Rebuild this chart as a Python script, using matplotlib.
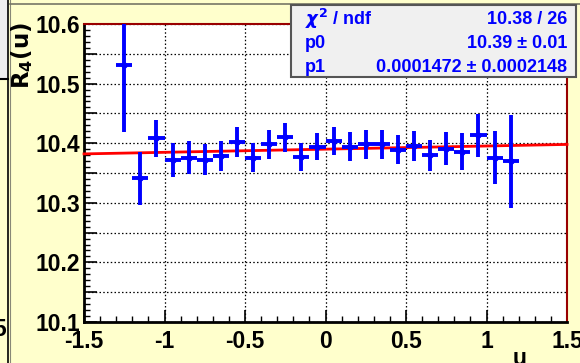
import numpy as np
import matplotlib
matplotlib.use("Agg")
import matplotlib.pyplot as plt
from matplotlib.ticker import MultipleLocator
from matplotlib.patches import Rectangle
from matplotlib.lines import Line2D

plt.rcParams['font.family'] = ['Liberation Sans', 'DejaVu Sans']
plt.rcParams['font.weight'] = 'bold'

u = [-1.25, -1.15, -1.05, -0.95, -0.85, -0.75, -0.65, -0.55, -0.45, -0.35,
     -0.25, -0.15, -0.05, 0.05, 0.15, 0.25, 0.35, 0.45, 0.55, 0.65,
     0.75, 0.85, 0.95, 1.05, 1.15]
r4 = [10.532, 10.341, 10.408, 10.372, 10.376, 10.372, 10.378, 10.402, 10.376, 10.398,
      10.410, 10.377, 10.394, 10.404, 10.394, 10.398, 10.398, 10.389, 10.395, 10.380,
      10.391, 10.386, 10.413, 10.376, 10.370]
r4_err = [0.113, 0.044, 0.031, 0.028, 0.027, 0.026, 0.025, 0.025, 0.025, 0.024,
          0.024, 0.024, 0.023, 0.023, 0.024, 0.024, 0.024, 0.024, 0.025, 0.026,
          0.028, 0.031, 0.036, 0.044, 0.078]
u_err = 0.05

# fitted line as drawn (value at u=0 and slope)
fit_p0 = 10.390
fit_slope = 0.0053

stat_names = [r'$\chi^2$ / ndf', 'p0', 'p1']
stat_values = ['10.38 / 26', u'10.39 \u00b1 0.01', u'0.0001472 \u00b1 0.0002148']

y_ticks = [10.1, 10.15, 10.2, 10.25, 10.3, 10.35, 10.4, 10.45, 10.5, 10.55, 10.6]
y_tick_labels = ['10.1', '', '10.2', '', '10.3', '', '10.4', '', '10.5', '', '10.6']
x_ticks = [-1.5, -1, -0.5, 0, 0.5, 1, 1.5]
x_tick_labels = ['-1.5', '-1', '-0.5', '0', '0.5', '1', '1.5']

W, H = 580, 363
bg = '#ffffcc'
fig = plt.figure(figsize=(W / 100, H / 100), dpi=100, facecolor=bg)

def px(x, y):
    return x / W, 1 - y / H

# piece of the neighbouring pad on the left
fig.patches.append(Rectangle(px(0, 79), 7.5 / W, 79 / H, transform=fig.transFigure,
                             facecolor='#eeeeee', edgecolor='none'))
fig.lines.append(Line2D([0, 8 / W], [1 - 79 / H] * 2, transform=fig.transFigure, color='black', lw=1.5))
fig.lines.append(Line2D([7.7 / W] * 2, [0, 1], transform=fig.transFigure, color='black', lw=1.2))
fig.lines.append(Line2D([10.3 / W] * 2, [0, 1], transform=fig.transFigure, color='#888877', lw=0.8))
fig.lines.append(Line2D([10 / W, 1], [1 - 3.5 / H] * 2, transform=fig.transFigure, color='#777766', lw=1.2))
fig.text(6 / W, 1 - 329 / H, '5', ha='right', va='center', fontsize=16.5, fontweight='bold')

l, b = px(84, 322)
ax = fig.add_axes([l, b, 483 / W, 298 / H], facecolor='white')

ax.set_xlim(-1.5, 1.5)
ax.set_ylim(10.1, 10.6)

xs = np.array([-1.5, 1.5])
ax.plot(xs, fit_p0 + fit_slope * xs, color='#ff0000', lw=2, zorder=3, clip_on=False)

ax.errorbar(u, r4, yerr=r4_err, xerr=u_err, fmt='o', color='#0000ff', ms=3.5,
            elinewidth=2.8, capsize=0, zorder=4)

ax.set_xticks(x_ticks)
ax.set_xticklabels(x_tick_labels)
ax.set_yticks(y_ticks)
ax.set_yticklabels(y_tick_labels)
ax.xaxis.set_minor_locator(MultipleLocator(0.1))
ax.yaxis.set_minor_locator(MultipleLocator(0.01))
ax.tick_params(axis='both', which='major', direction='in', length=9, width=1.2,
               labelsize=16.5, top=False, right=False)
ax.tick_params(axis='both', which='minor', direction='in', length=4.5, width=1.0,
               top=False, right=False)
ax.tick_params(axis='x', pad=6)
ax.tick_params(axis='y', pad=3)
for lab in ax.get_xticklabels() + ax.get_yticklabels():
    lab.set_fontweight('bold')

ax.grid(True, which='major', color='black', linestyle=(0, (1.2, 1.8)), lw=0.9)
ax.set_axisbelow(True)

for side in ['left', 'bottom']:
    ax.spines[side].set_color('black')
    ax.spines[side].set_linewidth(2)
for side in ['top', 'right']:
    ax.spines[side].set_color('#990000')
    ax.spines[side].set_linewidth(1.5)

fig.text(*px(22, 22), r'$\mathbf{R_4(u)}$', rotation=90, ha='center', va='top',
         fontsize=16.5, fontweight='bold')
fig.text(*px(520, 347), 'u', ha='center', va='top', fontsize=16.5, fontweight='bold')

# statistics box
bx, by = px(291, 77)
fig.patches.append(Rectangle((bx, by), 285 / W, 72 / H, transform=fig.transFigure,
                             facecolor='#f0f0f0', edgecolor='#555555', lw=1.5, zorder=5))
row_y = [19, 43, 67]
for name, val, yy in zip(stat_names, stat_values, row_y):
    fig.text(*px(305, yy), name, ha='left', va='center', fontsize=13,
             fontweight='bold', color='#0000ff', zorder=6)
    fig.text(*px(567, yy), val, ha='right', va='center', fontsize=13,
             fontweight='bold', color='#0000ff', zorder=6)

fig.savefig('out.png', dpi=100, facecolor=bg)
